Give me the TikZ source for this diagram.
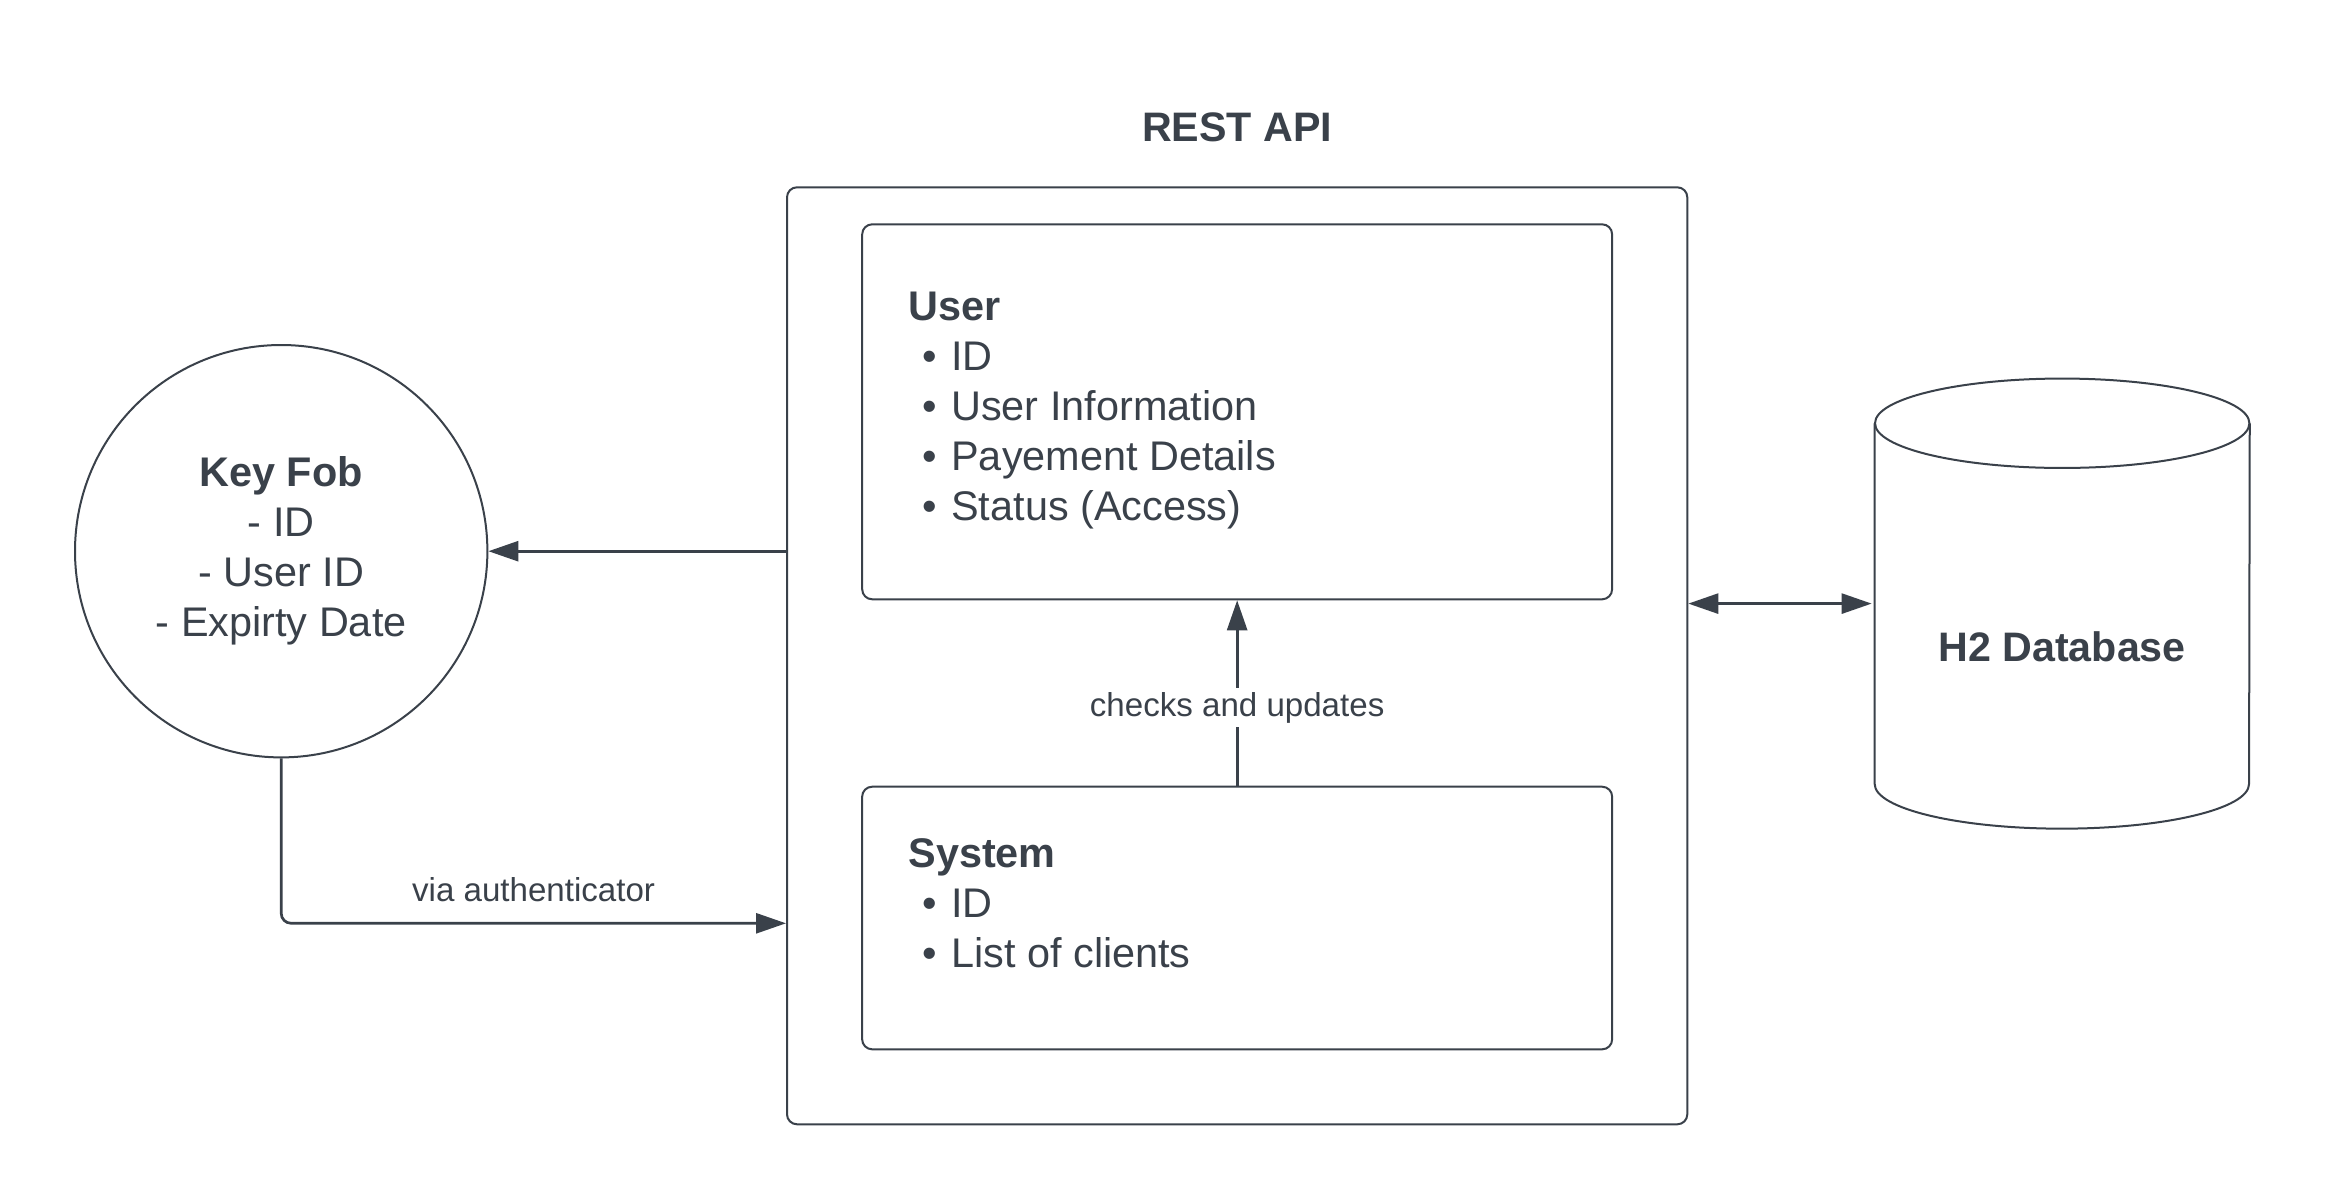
\documentclass[tikz,border=0pt]{standalone}
\usepackage{fontspec}
\setmainfont{Liberation Sans}
\usetikzlibrary{arrows.meta,positioning}
\definecolor{ink}{HTML}{3A414A}
\tikzstyle{wire} = [draw=ink, line width=1.35pt]
\tikzstyle{flow} = [->, wire]
\newcommand{\fieldbullet}{\hspace*{6.85pt}\textbullet\hspace{7.4pt}}

\begin{document}
\begin{tikzpicture}[
		x=0.5pt, y=0.5pt,
		>={Triangle[length=15pt,width=10pt]},
		every node/.style = {text=ink, font=\fontsize{20.7}{25}\selectfont},
		box/.style = {draw=ink, line width=1pt, rounded corners=5pt, inner sep=0pt},
		fields/.style = {align=left, inner sep=0pt, anchor=west},
		heading/.style = {font=\fontsize{20.6}{25}\selectfont\bfseries, inner sep=0pt},
		note/.style = {font=\fontsize{16.55}{20}\selectfont, inner sep=0pt}
	]
	\path [use as bounding box, fill=white] (0,0) rectangle (2325,-1200);

	\node [box, minimum width=450.15pt, minimum height=468.5pt] (api) at (1237.15,-655.8) {};
	\node [heading, anchor=base] (apiname) at (1237,-141.7) {REST API};
	\node [box, anchor=north, minimum width=374.95pt, minimum height=187.5pt] (user) at ([yshift=-18.5pt]api.north) {};
	\node [box, anchor=south, minimum width=375pt, minimum height=131.3pt] (system) at ([yshift=37.5pt]api.south) {};

	\node [fields] (userfields) at (908,-410.5) {\textbf{User}\\
		\fieldbullet ID\\
		\fieldbullet User Information\\
		\fieldbullet Payement Details\\
		\fieldbullet Status (Access)};
	\node [fields] (systemfields) at (908,-903) {\textbf{System}\\
		\fieldbullet ID\\
		\fieldbullet List of clients};

	\node [circle, draw=ink, line width=1pt, minimum size=206.2pt, inner sep=0pt, align=center] (keyfob) at (281.2,-551.2)
		{\textbf{Key Fob}\\- ID\\- User ID\\- Expirty Date};

	% database drum
	\node [minimum width=187.15pt, minimum height=224.65pt, inner sep=0pt] (db) at (2062.2,-603.6) {};
	\draw [draw=ink, line width=1pt] ([yshift=-22.35pt]db.north west) -- ([yshift=22.35pt]db.south west)
		arc [start angle=180, end angle=360, x radius=93.6pt, y radius=22.35pt] -- ([yshift=-22.35pt]db.north east);
	\draw [draw=ink, line width=1pt] ([yshift=-22.35pt]db.north) ellipse [x radius=93.6pt, y radius=22.35pt];
	\node [heading, anchor=base] (dbname) at ([yshift=-29.05pt]db.center) {H2 Database};

	\coordinate (authin) at (api.west |- 0,-923.3);
	\draw [flow] (keyfob -| api.west) -- (keyfob.east);
	\draw [flow, rounded corners=5pt] (keyfob.south) |- node [note, above=10.3pt, pos=0.75] {via authenticator} (authin);
	\draw [flow] (system.north) -- node [note, fill=white, pos=0.42, inner xsep=2pt, inner ysep=2pt] {checks and updates} (user.south);
	\draw [wire, <->, shorten >=1.5pt] (db -| api.east) -- (db.west);
\end{tikzpicture}
\end{document}
